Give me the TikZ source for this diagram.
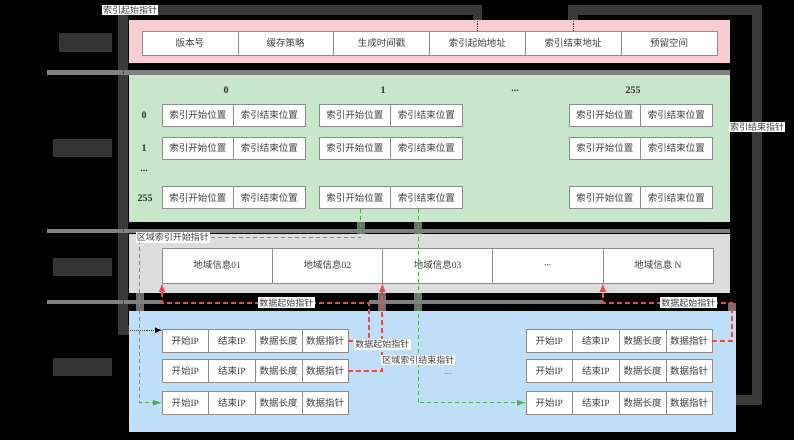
\documentclass[tikz,border=0pt]{standalone}
\usepackage{fontspec}
\setmainfont{Liberation Serif}
\newfontfamily\cjk{Noto Sans CJK SC}
\usetikzlibrary{arrows.meta,positioning,calc}
\definecolor{hdrpink}{RGB}{248,205,212}
\definecolor{idxgreen}{RGB}{200,230,201}
\definecolor{reggray}{RGB}{221,221,221}
\definecolor{datablue}{RGB}{191,222,248}
\definecolor{cellline}{RGB}{140,140,140}
\definecolor{ptrred}{RGB}{232,78,70}
\definecolor{ptrgreen}{RGB}{76,175,80}
\definecolor{barshade}{RGB}{58,58,58}
\definecolor{glowgray}{RGB}{110,110,110}
\definecolor{sepgray}{RGB}{128,128,128}
\definecolor{tagdark}{RGB}{52,52,52}
\pgfdeclarelayer{bg}
\pgfdeclarelayer{sect}
\pgfsetlayers{bg,sect,main}

\begin{document}
\begin{tikzpicture}[
  x=1pt, y=-1pt,
  node distance=0pt,
  cell/.style={
    draw=cellline,
    fill=white,
    inner sep=0pt,
    outer sep=0pt,
    minimum height=22pt,
    text=black!75,
    font=\cjk\fontsize{9.5}{11}\selectfont
  },
  hcell/.style={cell, minimum width=95.83pt, minimum height=24pt},
  icell/.style={cell, minimum width=71.5pt},
  rcell/.style={cell, minimum width=110.2pt, minimum height=35pt},
  dcell/.style={cell, minimum width=46.6pt, minimum height=23pt},
  sect/.style={inner sep=0pt, outer sep=0pt, anchor=north west},
  sidetag/.style={fill=tagdark, inner sep=0pt, anchor=north west},
  num/.style={text=black!80, font=\bfseries\fontsize{10}{12}\selectfont},
  tag/.style={fill=white, inner sep=1.2pt, text=black!75, font=\cjk\fontsize{9}{10}\selectfont},
  idxptr/.style={barshade, densely dotted, line width=0.9pt},
  ptrbar/.style={barshade, line width=9.5pt},
  glow/.style={glowgray, line width=8pt},
  redptr/.style={ptrred, line width=2pt, dash pattern=on 5pt off 3pt, -{Latex[length=9pt,width=7pt]}},
  grnptr/.style={ptrgreen, line width=1.2pt, dash pattern=on 4pt off 3pt, -{Latex[length=9pt,width=6pt]}}
]
\begin{pgfonlayer}{bg}
\fill[black] (0,0) rectangle (794,440);
\end{pgfonlayer}
\useasboundingbox (0,0) rectangle (794,440);

% sections
\begin{pgfonlayer}{sect}
\node[sect, fill=hdrpink, minimum width=601pt, minimum height=43pt] (hdrsec) at (129,20) {};
\node[sect, fill=idxgreen, minimum width=601pt, minimum height=147pt] (idxsec) at (129,75) {};
\node[sect, fill=reggray, minimum width=601pt, minimum height=59pt] (regsec) at (129,234) {};
\node[sect, fill=datablue, minimum width=607pt, minimum height=121pt] (datasec) at (129,311) {};
\draw[sepgray, line width=5pt] (47,72) -- (730,72);
\draw[sepgray, line width=4.5pt] (47,231) -- (730,231);
\draw[sepgray, line width=4.5pt] (47,302) -- (162,302);
\draw[sepgray, line width=4.5pt] (369,302) -- (603,302);
\end{pgfonlayer}

\node[sidetag, minimum width=53pt, minimum height=19pt] (hdrtag) at (59,33) {};
\node[sidetag, minimum width=59pt, minimum height=18pt] (idxtag) at (53,139) {};
\node[sidetag, minimum width=59pt, minimum height=18pt] (regtag) at (53,258) {};
\node[sidetag, minimum width=59pt, minimum height=18pt] (datatag) at (53,358) {};

% header
\node[hcell, anchor=west] (ver) at (142,43) {版本号};
\node[hcell, right=of ver] (cache) {缓存策略};
\node[hcell, right=of cache] (stamp) {生成时间戳};
\node[hcell, right=of stamp] (istart) {索引起始地址};
\node[hcell, right=of istart] (iend) {索引结束地址};
\node[hcell, right=of iend] (resv) {预留空间};

% index table
\node[num] (col0) at (226,90) {0};
\node[num] (col1) at (383,90) {1};
\node[num] (coldots) at (515,91) {...};
\node[num] (col255) at (633,90) {255};
\node[num] (row0) at (144,115) {0};
\node[num] (row1) at (144,148) {1};
\node[num] (rowdots) at (144,171) {...};
\node[num] (row255) at (145,198) {255};

\node[icell, anchor=west] (c0r0s) at (162,115) {索引开始位置};
\node[icell, right=of c0r0s] (c0r0e) {索引结束位置};
\node[icell, anchor=west] (c0r1s) at (162,148) {索引开始位置};
\node[icell, right=of c0r1s] (c0r1e) {索引结束位置};
\node[icell, anchor=west] (c0r255s) at (162,197.5) {索引开始位置};
\node[icell, right=of c0r255s] (c0r255e) {索引结束位置};

\node[icell, anchor=west] (c1r0s) at (319,115) {索引开始位置};
\node[icell, right=of c1r0s] (c1r0e) {索引结束位置};
\node[icell, anchor=west] (c1r1s) at (319,148) {索引开始位置};
\node[icell, right=of c1r1s] (c1r1e) {索引结束位置};
\node[icell, anchor=west] (c1r255s) at (319,197.5) {索引开始位置};
\node[icell, right=of c1r255s] (c1r255e) {索引结束位置};

\node[icell, anchor=west] (c255r0s) at (569,115) {索引开始位置};
\node[icell, right=of c255r0s] (c255r0e) {索引结束位置};
\node[icell, anchor=west] (c255r1s) at (569,148) {索引开始位置};
\node[icell, right=of c255r1s] (c255r1e) {索引结束位置};
\node[icell, anchor=west] (c255r255s) at (569,197.5) {索引开始位置};
\node[icell, right=of c255r255s] (c255r255e) {索引结束位置};

% regions
\node[rcell, anchor=west] (reg1) at (162,265.3) {地域信息{\rmfamily 01}};
\node[rcell, right=of reg1] (reg2) {地域信息{\rmfamily 02}};
\node[rcell, right=of reg2] (reg3) {地域信息{\rmfamily 03}};
\node[rcell, right=of reg3] (regdots) {\rmfamily ...};
\node[rcell, right=of regdots] (regN) {地域信息 {\rmfamily N}};

% data records
\node[dcell, anchor=west] (l1a) at (162,340.7) {开始{\rmfamily IP}};
\node[dcell, right=of l1a] (l1b) {结束{\rmfamily IP}};
\node[dcell, right=of l1b] (l1c) {数据长度};
\node[dcell, right=of l1c] (l1d) {数据指针};
\node[dcell, anchor=west] (l2a) at (162,371) {开始{\rmfamily IP}};
\node[dcell, right=of l2a] (l2b) {结束{\rmfamily IP}};
\node[dcell, right=of l2b] (l2c) {数据长度};
\node[dcell, right=of l2c] (l2d) {数据指针};
\node[dcell, anchor=west] (l3a) at (162,402.7) {开始{\rmfamily IP}};
\node[dcell, right=of l3a] (l3b) {结束{\rmfamily IP}};
\node[dcell, right=of l3b] (l3c) {数据长度};
\node[dcell, right=of l3c] (l3d) {数据指针};

\node[dcell, anchor=west] (r1a) at (526,340.7) {开始{\rmfamily IP}};
\node[dcell, right=of r1a] (r1b) {结束{\rmfamily IP}};
\node[dcell, right=of r1b] (r1c) {数据长度};
\node[dcell, right=of r1c] (r1d) {数据指针};
\node[dcell, anchor=west] (r2a) at (526,371) {开始{\rmfamily IP}};
\node[dcell, right=of r2a] (r2b) {结束{\rmfamily IP}};
\node[dcell, right=of r2b] (r2c) {数据长度};
\node[dcell, right=of r2c] (r2d) {数据指针};
\node[dcell, anchor=west] (r3a) at (526,402.7) {开始{\rmfamily IP}};
\node[dcell, right=of r3a] (r3b) {结束{\rmfamily IP}};
\node[dcell, right=of r3b] (r3c) {数据长度};
\node[dcell, right=of r3c] (r3d) {数据指针};

\node[text=black!70, font=\fontsize{9}{10}\selectfont] (datadots) at (448,374) {...};

% pointers
\coordinate (ptrTL) at (123,10);
\coordinate (ptrTR) at (757,10);
\coordinate (ptrBR) at (757,400);

\begin{pgfonlayer}{bg}
\draw[ptrbar] (istart.north) |- (ptrTL) |- ([yshift=-1pt]l1a.north west);
\draw[ptrbar] (iend.north) |- (ptrTR) -- (ptrBR) -- (ptrBR -| datasec.east);
\draw[glow] (l2d.east) -| (reg2.south east);
\draw[glow] (r1d.east) -- ++(20,0) -- ++(0,-38);
\draw[glow] ([xshift=6pt]c1r255s.south) -- ++(0,29) -- ++(-221,0) |- (l3a.west);
\draw[glow] ([xshift=-8pt]c1r255e.south) |- (r3a.west);
\end{pgfonlayer}

\draw[idxptr, -{Latex[length=7pt,width=6pt,black]}] (istart.north) |- node[tag, pos=0.99]{索引起始指针} (ptrTL) |- ([yshift=-1pt]l1a.north west);
\draw[idxptr] (iend.north) |- (ptrTR) -- node[tag, pos=0.3]{索引结束指针} (ptrBR) -- (ptrBR -| datasec.east);

\draw[redptr] (l1d.east) -- ++(21,0) -- ++(0,-38) -| node[tag, pos=0.2]{数据起始指针} (reg1.south west);
\draw[redptr] (l2d.east) -| node[tag, pos=0.65]{数据起始指针} (reg2.south east);
\draw[redptr] (r1d.east) -- ++(20,0) -- ++(0,-38) -| node[tag, pos=0.17]{数据起始指针} (regN.south west);

\draw[grnptr] ([xshift=6pt]c1r255s.south) -- ++(0,29) -- node[tag, pos=0.85]{区域索引开始指针} ++(-221,0) |- (l3a.west);
\draw[grnptr] ([xshift=-8pt]c1r255e.south) |- node[tag, pos=0.39]{区域索引结束指针} (r3a.west);
\end{tikzpicture}
\end{document}
